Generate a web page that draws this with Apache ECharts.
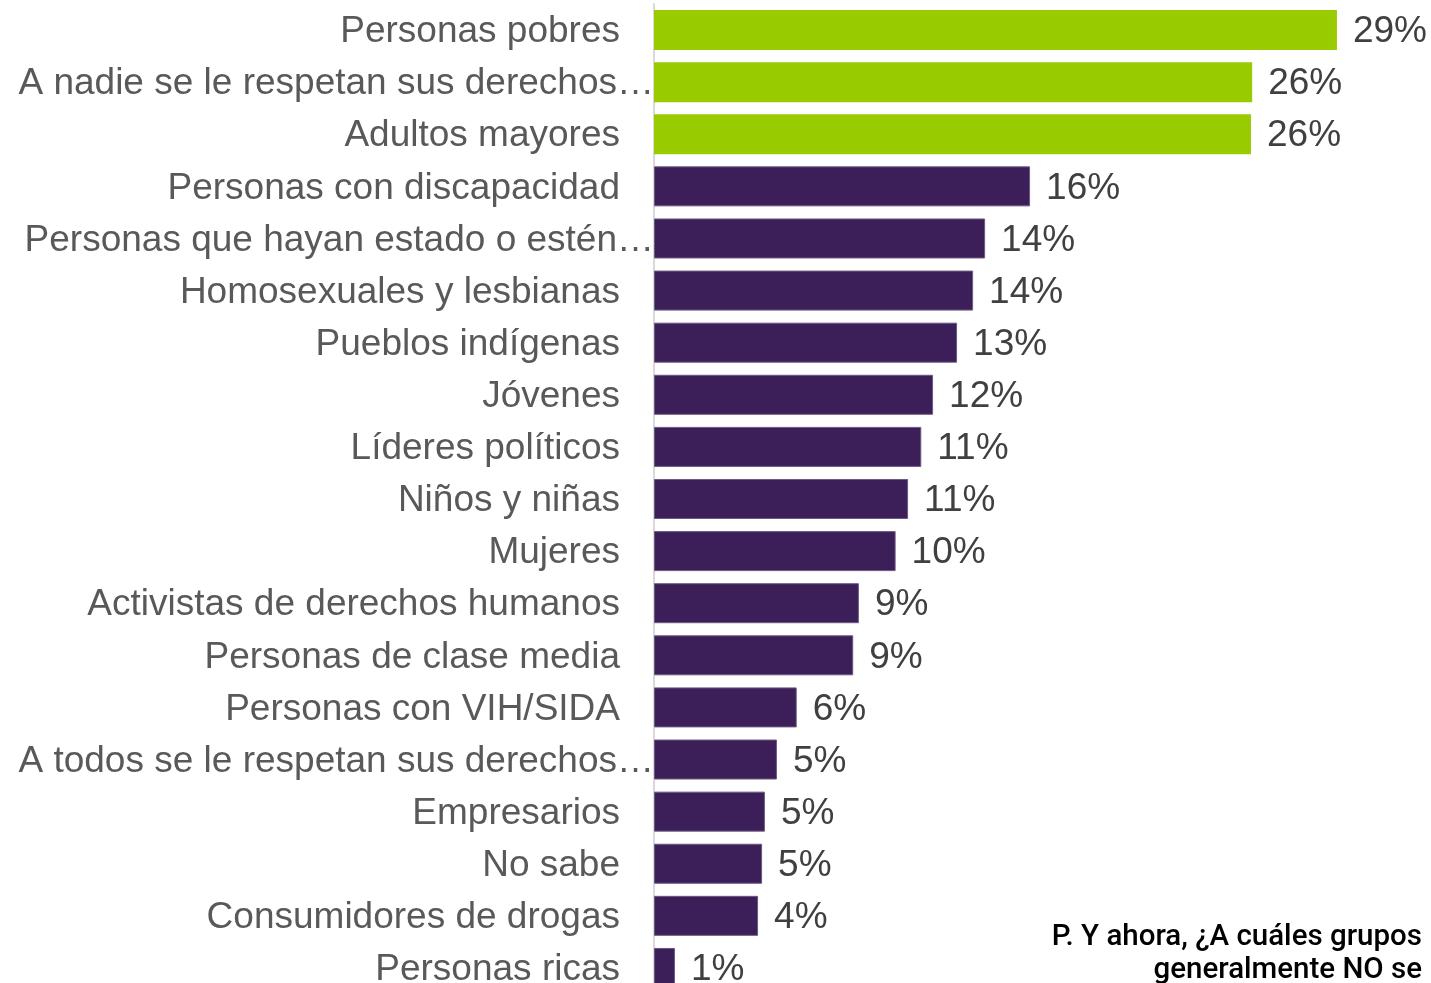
<!DOCTYPE html>
<html>
<head>
<meta charset="utf-8">
<script src="https://cdn.jsdelivr.net/npm/echarts@6/dist/echarts.min.js"></script>
<style>
html,body{margin:0;padding:0;background:#fff;overflow:hidden;}
#chart{width:1431px;height:1000px;}
</style>
</head>
<body>
<div id="chart"></div>
<script>
const categories = [
  "Personas pobres",
  "A nadie se le respetan sus derechos…",
  "Adultos mayores",
  "Personas con discapacidad",
  "Personas que hayan estado o estén…",
  "Homosexuales y lesbianas",
  "Pueblos indígenas",
  "Jóvenes",
  "Líderes políticos",
  "Niños y niñas",
  "Mujeres",
  "Activistas de derechos humanos",
  "Personas de clase media",
  "Personas con VIH/SIDA",
  "A todos se le respetan sus derechos…",
  "Empresarios",
  "No sabe",
  "Consumidores de drogas",
  "Personas ricas"
];
const values = [29.0, 25.4, 25.35, 15.97, 14.06, 13.55, 12.87, 11.85, 11.35, 10.79, 10.26, 8.70, 8.46, 6.06, 5.22, 4.71, 4.59, 4.42, 0.89];
const valueLabels = ["29%","26%","26%","16%","14%","14%","13%","12%","11%","11%","10%","9%","9%","6%","5%","5%","5%","4%","1%"];
const highlighted = [true, true, true, false, false, false, false, false, false, false, false, false, false, false, false, false, false, false, false];
const noteLines = ["P. Y ahora, ¿A cuáles grupos", "generalmente NO se"];

const GREEN = "#99CC00";
const PURPLE = "#3C1F58";
const FONT = "'Liberation Sans', Arial, sans-serif";

const chart = echarts.init(document.getElementById('chart'), null, {renderer: 'canvas'});
const option = {
  animation: false,
  backgroundColor: '#ffffff',
  grid: {left: 654, right: 70.5, top: 4, height: 990, containLabel: false},
  xAxis: {
    type: 'value', min: 0, max: 30,
    show: false
  },
  yAxis: {
    type: 'category',
    data: categories,
    inverse: true,
    axisLine: {show: true, lineStyle: {color: '#D9D9D9', width: 2}},
    axisTick: {show: false},
    axisLabel: {
      margin: 0,
      fontFamily: FONT,
      fontSize: 37,
      color: '#595959',
      formatter: function (v) {
        return v.endsWith('…') ? '{t|' + v + '}' : '{n|' + v + '}';
      },
      rich: {
        n: {fontFamily: FONT, fontSize: 37, color: '#595959', padding: [4, 34, 0, 0]},
        t: {fontFamily: FONT, fontSize: 37, color: '#595959', padding: [4, 0, 0, 0]}
      }
    }
  },
  series: [{
    type: 'bar',
    barWidth: 40,
    data: values.map((v, i) => ({
      value: v,
      itemStyle: {
        color: highlighted[i] ? GREEN : PURPLE,
        borderColor: highlighted[i] ? GREEN : '#6A5A80',
        borderWidth: highlighted[i] ? 0 : 1
      }
    })),
    label: {
      show: true,
      position: 'right',
      distance: 16,
      offset: [0, 2],
      fontFamily: FONT,
      fontSize: 37,
      color: '#404040',
      formatter: p => valueLabels[p.dataIndex]
    }
  }],
  graphic: [
    {type: 'text', right: 9, top: 923, style: {text: noteLines[0], font: '500 29.5px Roboto', fill: '#000000', textAlign: 'right'}},
    {type: 'text', right: 9, top: 956, style: {text: noteLines[1], font: '500 29.5px Roboto', fill: '#000000', textAlign: 'right'}}
  ]
};
chart.setOption(option);
</script>
</body>
</html>
